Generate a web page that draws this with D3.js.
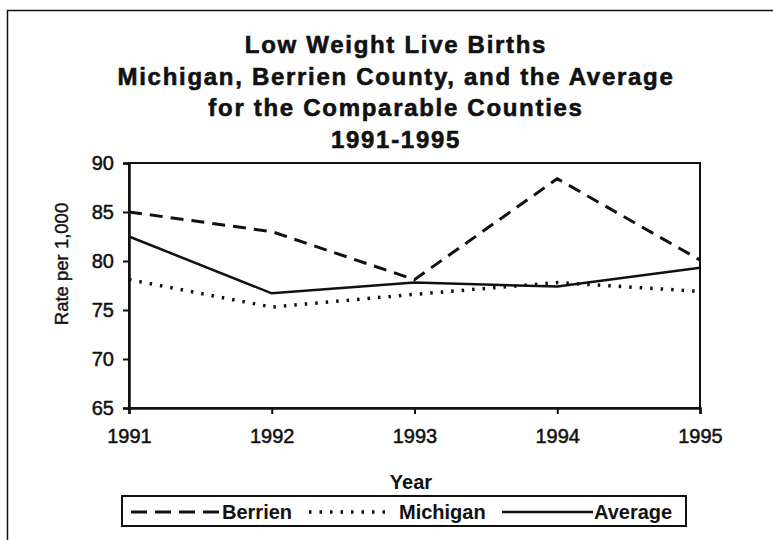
<!DOCTYPE html>
<html>
<head>
<meta charset="utf-8">
<script src="https://cdn.jsdelivr.net/npm/d3@7"></script>
<style>
  body { margin: 0; background: white; }
  text { font-family: "Liberation Sans", Arial, sans-serif; fill: #111; }
</style>
</head>
<body>
<svg class="chart" width="773" height="540"></svg>
<script>
// Low weight live births line chart

var years = [1991, 1992, 1993, 1994, 1995];
var berrien = [85.0, 83.0, 78.1, 88.4, 80.1];
var michigan = [78.1, 75.3, 76.6, 77.8, 76.9];
var average = [82.5, 76.7, 77.8, 77.4, 79.3];
var yTicks = [65, 70, 75, 80, 85, 90];
var titleLines = [
    "Low Weight Live Births",
    "Michigan, Berrien County, and the Average",
    "for the Comparable Counties",
    "1991-1995"
];

var PLOT_L = 129, PLOT_R = 700, PLOT_T = 163, PLOT_B = 408;

var svg = d3.select(".chart");

// outer frame (right and bottom run off the page)
svg.append("rect")
    .attr("x", 7.5).attr("y", 10.5)
    .attr("width", 800).attr("height", 600)
    .attr("fill", "white").attr("stroke", "#111").attr("stroke-width", 1.5);

// title
svg.selectAll(".title").data(titleLines).enter().append("text")
    .attr("class", "title")
    .attr("x", 396).attr("y", function (d, i) { return 53 + i * 31.5; })
    .attr("text-anchor", "middle")
    .style("font-size", "24px").style("font-weight", "bold")
    .style("letter-spacing", "1.7px")
    .attr("stroke", "#111").attr("stroke-width", 0.6)
    .text(function (d) { return d; });

var x = d3.scalePoint().domain(years).range([PLOT_L, PLOT_R]);
var y = d3.scaleLinear().domain([65, 90]).range([PLOT_B, PLOT_T]);

// plot box
svg.append("rect")
    .attr("x", PLOT_L).attr("y", PLOT_T)
    .attr("width", PLOT_R - PLOT_L).attr("height", PLOT_B - PLOT_T)
    .attr("fill", "none").attr("stroke", "#111").attr("stroke-width", 2);

// axes
var yAxis = svg.append("g")
    .attr("transform", "translate(" + PLOT_L + ",0)")
    .call(d3.axisLeft(y).tickValues(yTicks).tickSize(6).tickPadding(9));
var xAxis = svg.append("g")
    .attr("transform", "translate(0," + PLOT_B + ")")
    .call(d3.axisBottom(x).tickSize(6).tickPadding(15));
[yAxis, xAxis].forEach(function (g) {
    g.select(".domain").attr("stroke", "#111").attr("stroke-width", 2.5);
    g.selectAll(".tick line").attr("stroke", "#111").attr("stroke-width", 2);
    g.selectAll(".tick text")
        .style("font-size", "20px").style("font-family", "Liberation Sans, Arial, sans-serif")
        .attr("fill", "#111").attr("stroke", "#111").attr("stroke-width", 0.5);
});

// axis titles
svg.append("text")
    .attr("transform", "translate(68,264) rotate(-90)")
    .attr("text-anchor", "middle")
    .style("font-size", "18.5px")
    .attr("stroke", "#111").attr("stroke-width", 0.4)
    .text("Rate per 1,000");
svg.append("text")
    .attr("x", 411).attr("y", 489)
    .attr("text-anchor", "middle")
    .style("font-size", "20px").style("font-weight", "bold")
    .text("Year");

// series lines
var series = [
    { name: "Berrien", values: berrien, dash: "13,8", width: 3 },
    { name: "Michigan", values: michigan, dash: "2.5,8", width: 3.5 },
    { name: "Average", values: average, dash: null, width: 2.5 }
];
var line = d3.line()
    .x(function (d, i) { return x(years[i]); })
    .y(function (d) { return y(d); });

series.forEach(function (s) {
    svg.append("path")
        .datum(s.values)
        .attr("d", line)
        .attr("fill", "none")
        .attr("stroke", "#111")
        .attr("stroke-width", s.width)
        .attr("stroke-dasharray", s.dash);
});

// legend
svg.append("rect")
    .attr("x", 122).attr("y", 496)
    .attr("width", 564).attr("height", 30)
    .attr("fill", "white").attr("stroke", "#111").attr("stroke-width", 2);
var legendPos = [
    { sx: 131, ex: 220, tx: 222 },
    { sx: 309, ex: 388, tx: 399 },
    { sx: 502, ex: 593, tx: 594 }
];
series.forEach(function (s, i) {
    var p = legendPos[i];
    svg.append("line")
        .attr("x1", p.sx).attr("x2", p.ex)
        .attr("y1", 512).attr("y2", 512)
        .attr("stroke", "#111").attr("stroke-width", s.width)
        .attr("stroke-dasharray", s.name == "Berrien" ? "16,8" : s.dash);
    svg.append("text")
        .attr("x", p.tx).attr("y", 519)
        .style("font-size", "20px").style("font-weight", "bold")
        .text(s.name);
});
</script>
</body>
</html>
